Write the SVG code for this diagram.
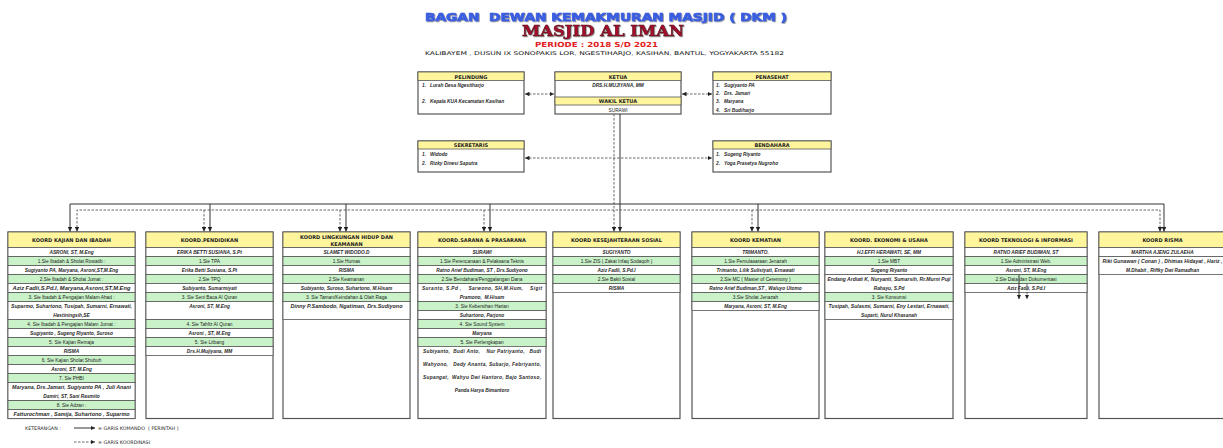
<svg xmlns="http://www.w3.org/2000/svg" width="1223" height="448" viewBox="0 0 1223 448">
<style>
.box{fill:#fff;stroke:#555;stroke-width:1.2}
.hd{fill:#fff59d;stroke:#555;stroke-width:0.8}
.w{fill:#fff;stroke:#555;stroke-width:0.8}
.g{fill:#c9f2c9;stroke:#555;stroke-width:0.8}
.ht{font-family:"DejaVu Sans",sans-serif;font-weight:bold;font-size:5px;text-anchor:middle;fill:#222}
.nm{font-family:"Liberation Sans",Arial,sans-serif;font-style:italic;font-weight:bold;font-size:4.8px;text-anchor:middle;fill:#2a2a2a}
.s{font-family:"Liberation Sans",Arial,sans-serif;font-size:4.8px;text-anchor:middle;fill:#222}
.it{font-family:"Liberation Sans",Arial,sans-serif;font-style:italic;font-weight:bold;font-size:4.8px;fill:#2a2a2a}
.lg{font-family:"DejaVu Sans",sans-serif;font-size:4.8px;fill:#222}
.sol{fill:none;stroke:#333;stroke-width:1}
.dsh{fill:none;stroke:#444;stroke-width:0.8;stroke-dasharray:2.5 1.5}
</style>
<defs>
<marker id="ah" viewBox="0 0 10 10" refX="10" refY="5" markerWidth="4.5" markerHeight="4.5" markerUnits="userSpaceOnUse" orient="auto-start-reverse"><path d="M0,0 L10,5 L0,10 z" fill="#222"/></marker>
<filter id="sh" x="-5%" y="-20%" width="110%" height="150%"><feDropShadow dx="0.8" dy="0.8" stdDeviation="0.3" flood-color="#555" flood-opacity="0.7"/></filter>
</defs>

<g id="title">
<text x="606" y="21" text-anchor="middle" font-family="DejaVu Sans, sans-serif" font-weight="900" font-size="11" fill="#3a5ee0" stroke="#3a5ee0" stroke-width="0.7" textLength="362" lengthAdjust="spacingAndGlyphs" filter="url(#sh)" xml:space="preserve">BAGAN  DEWAN KEMAKMURAN MASJID ( DKM )</text>
<text x="603" y="36" text-anchor="middle" font-family="DejaVu Serif, serif" font-weight="bold" font-size="14" fill="#a8102e" stroke="#5a0a18" stroke-width="0.5" textLength="162" lengthAdjust="spacingAndGlyphs" filter="url(#sh)">MASJID AL IMAN</text>
<text x="596.5" y="46.5" text-anchor="middle" font-family="DejaVu Sans, sans-serif" font-weight="bold" font-size="7" fill="#e0201c" textLength="123" lengthAdjust="spacingAndGlyphs">PERIODE : 2018 S/D 2021</text>
<text x="604.5" y="54.5" text-anchor="middle" font-family="DejaVu Sans, sans-serif" font-size="5" fill="#111" textLength="359" lengthAdjust="spacingAndGlyphs">KALIBAYEM , DUSUN IX SONOPAKIS LOR, NGESTIHARJO, KASIHAN, BANTUL, YOGYAKARTA 55182</text>
</g>

<g id="pelindung">
<rect class="box" x="418" y="72" width="106" height="42"/>
<rect class="hd" x="418" y="72" width="106" height="8.5"/>
<text class="ht" x="471" y="78.5">PELINDUNG</text>
<text class="it" x="422" y="86.7" xml:space="preserve">1.   Lurah Desa Ngestiharjo</text>
<text class="it" x="422" y="103" xml:space="preserve">2.   Kepala KUA Kecamatan Kasihan</text>
</g>

<g id="ketua">
<rect class="box" x="555" y="72" width="126" height="42"/>
<rect class="hd" x="555" y="72" width="126" height="8.5"/>
<text class="ht" x="618" y="78.5">KETUA</text>
<text class="nm" x="618" y="86.7">DRS.H.MUJIYANA, MM</text>
<rect class="hd" x="555" y="97" width="126" height="8"/>
<text class="ht" x="618" y="103.2">WAKIL KETUA</text>
<text class="s" x="618" y="111.5">SURAWI</text>
</g>

<g id="penasehat">
<rect class="box" x="713" y="72" width="118" height="42"/>
<rect class="hd" x="713" y="72" width="118" height="8.5"/>
<text class="ht" x="772" y="78.5">PENASEHAT</text>
<text class="it" x="716" y="86.7" xml:space="preserve">1.   Sugiyanto PA</text>
<text class="it" x="716" y="95.2" xml:space="preserve">2.   Drs. Jamari</text>
<text class="it" x="716" y="103.4" xml:space="preserve">3.   Maryana</text>
<text class="it" x="716" y="111.6" xml:space="preserve">4.   Sri Budiharjo</text>
</g>

<g id="sekretaris">
<rect class="box" x="418" y="141" width="106" height="31"/>
<rect class="hd" x="418" y="141" width="106" height="8"/>
<text class="ht" x="471" y="147.2">SEKRETARIS</text>
<text class="it" x="422" y="156" xml:space="preserve">1.   Widodo</text>
<text class="it" x="422" y="164.7" xml:space="preserve">2.   Rizky Dinesi Saputra</text>
</g>

<g id="bendahara">
<rect class="box" x="713" y="141" width="118" height="31"/>
<rect class="hd" x="713" y="141" width="118" height="8"/>
<text class="ht" x="772" y="147.2">BENDAHARA</text>
<text class="it" x="716" y="156" xml:space="preserve">1.   Sugeng Riyanto</text>
<text class="it" x="716" y="164.7" xml:space="preserve">2.   Yoga Prasetya Nugroho</text>
</g>

<g id="koord-kajian">
<rect class="box" x="8" y="232" width="127" height="186.5"/>
<rect class="hd" x="8" y="232" width="127" height="15.5"/>
<text class="ht" x="71.5" y="241.8">KOORD KAJIAN DAN IBADAH</text>
<rect class="w" x="8" y="247.5" width="127" height="9"/><text class="nm" x="71.5" y="253.8">ASRONI, ST, M.Eng</text>
<rect class="g" x="8" y="256.5" width="127" height="9"/><text class="s" x="71.5" y="262.8">1.Sie Ibadah &amp; Sholat Rowatib :</text>
<rect class="w" x="8" y="265.5" width="127" height="9"/><text class="nm" x="71.5" y="271.8">Sugiyanto PA, Maryana, Asroni,ST,M.Eng</text>
<rect class="g" x="8" y="274.5" width="127" height="9"/><text class="s" x="71.5" y="280.8">2.Sie Ibadah &amp; Sholat Jumat :</text>
<rect class="w" x="8" y="283.5" width="127" height="9"/><text class="nm" x="71.5" y="289.8" textLength="118" lengthAdjust="spacingAndGlyphs">Aziz Fadli,S.Pd.I, Maryana,Asroni,ST,M.Eng</text>
<rect class="g" x="8" y="292.5" width="127" height="9"/><text class="s" x="71.5" y="298.8">3. Sie Ibadah &amp; Pengajian Malam Ahad :</text>
<rect class="w" x="8" y="301.5" width="127" height="18"/><text class="nm" x="71.5" y="307.8" textLength="121" lengthAdjust="spacingAndGlyphs">Suparmo, Suhartono, Tusipah, Sumarni, Ernawati,</text><text class="nm" x="71.5" y="316.8">Hestiningsih,SE</text>
<rect class="g" x="8" y="319.5" width="127" height="9"/><text class="s" x="71.5" y="325.8">4. Sie Ibadah &amp; Pengajian Malam Jumat :</text>
<rect class="w" x="8" y="328.5" width="127" height="9"/><text class="nm" x="71.5" y="334.8">Sugiyanto , Sugeng Riyanto, Suroso</text>
<rect class="g" x="8" y="337.5" width="127" height="9"/><text class="s" x="71.5" y="343.8">5. Sie Kajian Remaja</text>
<rect class="w" x="8" y="346.5" width="127" height="9"/><text class="nm" x="71.5" y="352.8">RISMA</text>
<rect class="g" x="8" y="355.5" width="127" height="9"/><text class="s" x="71.5" y="361.8">6. Sie Kajian Sholat Shubuh</text>
<rect class="w" x="8" y="364.5" width="127" height="9"/><text class="nm" x="71.5" y="370.8">Asroni, ST, M.Eng</text>
<rect class="g" x="8" y="373.5" width="127" height="9"/><text class="s" x="71.5" y="379.8">7. Sie PHBI</text>
<rect class="w" x="8" y="382.5" width="127" height="18"/><text class="nm" x="71.5" y="388.8" textLength="119" lengthAdjust="spacingAndGlyphs">Maryana, Drs.Jamari, Sugiyanto PA , Juli Anani</text><text class="nm" x="71.5" y="397.8">Damiri, ST, Sani Rasmito</text>
<rect class="g" x="8" y="400.5" width="127" height="9"/><text class="s" x="71.5" y="406.8">8. Sie Adzan :</text>
<rect class="w" x="8" y="409.5" width="127" height="9"/><text class="nm" x="71.5" y="415.8" textLength="116" lengthAdjust="spacingAndGlyphs">Fatturochman , Samija, Suhartono , Suparmo</text>
</g>

<g id="koord-pendidikan">
<rect class="box" x="146" y="232" width="127" height="186.5"/>
<rect class="hd" x="146" y="232" width="127" height="15.5"/>
<text class="ht" x="209.5" y="241.8">KOORD.PENDIDIKAN</text>
<rect class="w" x="146" y="247.5" width="127" height="9"/><text class="nm" x="209.5" y="253.8">ERIKA BETTI SUSIANA, S.Pt</text>
<rect class="g" x="146" y="256.5" width="127" height="9"/><text class="s" x="209.5" y="262.8">1.Sie TPA</text>
<rect class="w" x="146" y="265.5" width="127" height="9"/><text class="nm" x="209.5" y="271.8">Erika Betti Susiana, S.Pt</text>
<rect class="g" x="146" y="274.5" width="127" height="9"/><text class="s" x="209.5" y="280.8">2.Sie TPQ</text>
<rect class="w" x="146" y="283.5" width="127" height="9"/><text class="nm" x="209.5" y="289.8">Subiyanto, Sumarmiyati</text>
<rect class="g" x="146" y="292.5" width="127" height="9"/><text class="s" x="209.5" y="298.8">3. Sie Seni Baca Al Quran</text>
<rect class="w" x="146" y="301.5" width="127" height="18"/><text class="nm" x="209.5" y="307.8">Asroni, ST, M.Eng</text>
<rect class="g" x="146" y="319.5" width="127" height="9"/><text class="s" x="209.5" y="325.8">4. Sie Tahfiz Al Quran</text>
<rect class="w" x="146" y="328.5" width="127" height="9"/><text class="nm" x="209.5" y="334.8">Asroni , ST, M.Eng</text>
<rect class="g" x="146" y="337.5" width="127" height="9"/><text class="s" x="209.5" y="343.8">5. Sie Litbang</text>
<rect class="w" x="146" y="346.5" width="127" height="9"/><text class="nm" x="209.5" y="352.8">Drs.H.Mujiyana, MM</text>
</g>

<g id="koord-lingkungan">
<rect class="box" x="283" y="232" width="127" height="186.5"/>
<rect class="hd" x="283" y="232" width="127" height="15.5"/>
<text class="ht" x="346.5" y="239">KOORD LINGKUNGAN HIDUP DAN</text>
<text class="ht" x="346.5" y="245.5">KEAMANAN</text>
<rect class="w" x="283" y="247.5" width="127" height="9"/><text class="nm" x="346.5" y="253.8">SLAMET WIDODO.D</text>
<rect class="g" x="283" y="256.5" width="127" height="9"/><text class="s" x="346.5" y="262.8">1.Sie Humas</text>
<rect class="w" x="283" y="265.5" width="127" height="9"/><text class="nm" x="346.5" y="271.8">RISMA</text>
<rect class="g" x="283" y="274.5" width="127" height="9"/><text class="s" x="346.5" y="280.8">2.Sie Keamanan</text>
<rect class="w" x="283" y="283.5" width="127" height="9"/><text class="nm" x="346.5" y="289.8">Subiyanto, Suroso, Suhartono, M.Hisam</text>
<rect class="g" x="283" y="292.5" width="127" height="9"/><text class="s" x="346.5" y="298.8">3. Sie Taman/Keindahan &amp; Olah Raga</text>
<rect class="w" x="283" y="301.5" width="127" height="18"/><text class="nm" x="346.5" y="307.8" textLength="112" lengthAdjust="spacingAndGlyphs">Dinny P.Sambodo, Ngatiman, Drs.Sudiyono</text>
</g>

<g id="koord-sarana">
<rect class="box" x="418" y="232" width="128" height="186.5"/>
<rect class="hd" x="418" y="232" width="128" height="15.5"/>
<text class="ht" x="482" y="241.8">KOORD.SARANA &amp; PRASARANA</text>
<rect class="w" x="418" y="247.5" width="128" height="9"/><text class="nm" x="482" y="253.8">SURAWI</text>
<rect class="g" x="418" y="256.5" width="128" height="9"/><text class="s" x="482" y="262.8">1.Sie Perencanaan &amp; Pelaksana Teknis</text>
<rect class="w" x="418" y="265.5" width="128" height="9"/><text class="nm" x="482" y="271.8">Ratno Arief Budiman, ST , Drs.Sudiyono</text>
<rect class="g" x="418" y="274.5" width="128" height="9"/><text class="s" x="482" y="280.8">2.Sie Bendahara/Penggalangan Dana</text>
<rect class="w" x="418" y="283.5" width="128" height="18"/><text class="nm" x="482" y="289.8" textLength="120" lengthAdjust="spacing" xml:space="preserve">Suranto, S.Pd ,    Sarwono, SH,M.Hum,    Sigit</text><text class="nm" x="482" y="298.8" xml:space="preserve">Pramono,  M.Hisam</text>
<rect class="g" x="418" y="301.5" width="128" height="9"/><text class="s" x="482" y="307.8">3. Sie Kebersihan Harian</text>
<rect class="w" x="418" y="310.5" width="128" height="9"/><text class="nm" x="482" y="316.8">Suhartono, Parjono</text>
<rect class="g" x="418" y="319.5" width="128" height="9"/><text class="s" x="482" y="325.8">4. Sie Sound System</text>
<rect class="w" x="418" y="328.5" width="128" height="9"/><text class="nm" x="482" y="334.8">Maryana</text>
<rect class="g" x="418" y="337.5" width="128" height="9"/><text class="s" x="482" y="343.8">5. Sie Perlengkapan</text>
<text class="nm" x="482" y="353" textLength="118" lengthAdjust="spacing" xml:space="preserve">Subiyanto,  Budi Anto,    Nur Patriyanto,   Budi</text>
<text class="nm" x="482" y="366" textLength="118" lengthAdjust="spacing" xml:space="preserve">Wahyono,   Dedy Ananta, Subarjo, Febriyanto,</text>
<text class="nm" x="482" y="379" textLength="118" lengthAdjust="spacing" xml:space="preserve">Supangat,  Wahyu Dwi Hantoro, Bajo Santoso,</text>
<text class="nm" x="482" y="392">Panda Harya Bimantoro</text>
</g>

<g id="koord-kesejahteraan">
<rect class="box" x="553" y="232" width="127" height="186.5"/>
<rect class="hd" x="553" y="232" width="127" height="15.5"/>
<text class="ht" x="616.5" y="241.8">KOORD KESEJAHTERAAN SOSIAL</text>
<rect class="w" x="553" y="247.5" width="127" height="9"/><text class="nm" x="616.5" y="253.8">SUGIYANTO</text>
<rect class="g" x="553" y="256.5" width="127" height="9"/><text class="s" x="616.5" y="262.8">1.Sie ZIS ( Zakat Infaq Sodaqoh )</text>
<rect class="w" x="553" y="265.5" width="127" height="9"/><text class="nm" x="616.5" y="271.8">Aziz Fadli, S.Pd.I</text>
<rect class="g" x="553" y="274.5" width="127" height="9"/><text class="s" x="616.5" y="280.8">2.Sie Bakti Sosial</text>
<rect class="w" x="553" y="283.5" width="127" height="9"/><text class="nm" x="616.5" y="289.8">RISMA</text>
</g>

<g id="koord-kematian">
<rect class="box" x="692" y="232" width="127" height="186.5"/>
<rect class="hd" x="692" y="232" width="127" height="15.5"/>
<text class="ht" x="755.5" y="241.8">KOORD KEMATIAN</text>
<rect class="w" x="692" y="247.5" width="127" height="9"/><text class="nm" x="755.5" y="253.8">TRIMANTO.</text>
<rect class="g" x="692" y="256.5" width="127" height="9"/><text class="s" x="755.5" y="262.8">1.Sie Pemulasaraan Jenazah</text>
<rect class="w" x="692" y="265.5" width="127" height="9"/><text class="nm" x="755.5" y="271.8">Trimanto, Lilik Sulistyati, Ernawati</text>
<rect class="g" x="692" y="274.5" width="127" height="9"/><text class="s" x="755.5" y="280.8">2.Sie MC ( Master of Ceremony )</text>
<rect class="w" x="692" y="283.5" width="127" height="9"/><text class="nm" x="755.5" y="289.8">Ratno Arief Budiman,ST , Waluyo Utomo</text>
<rect class="g" x="692" y="292.5" width="127" height="9"/><text class="s" x="755.5" y="298.8">3.Sie Sholat Jenazah</text>
<rect class="w" x="692" y="301.5" width="127" height="9"/><text class="nm" x="755.5" y="307.8">Maryana, Asroni, ST, M.Eng</text>
</g>

<g id="koord-ekonomi">
<rect class="box" x="825" y="232" width="128" height="186.5"/>
<rect class="hd" x="825" y="232" width="128" height="15.5"/>
<text class="ht" x="889" y="241.8">KOORD. EKONOMI &amp; USAHA</text>
<rect class="w" x="825" y="247.5" width="128" height="9"/><text class="nm" x="889" y="253.8">HJ.EFFI HERAWATI, SE, MM</text>
<rect class="g" x="825" y="256.5" width="128" height="9"/><text class="s" x="889" y="262.8">1.Sie MBT</text>
<rect class="w" x="825" y="265.5" width="128" height="9"/><text class="nm" x="889" y="271.8">Sugeng Riyanto</text>
<rect class="w" x="825" y="274.5" width="128" height="18"/><text class="nm" x="889" y="280.8" textLength="123" lengthAdjust="spacingAndGlyphs">Endang Ardiati K, Nuryanti, Sumarsih, Rr.Murni Puji</text><text class="nm" x="889" y="289.8">Rahayu, S.Pd</text>
<rect class="g" x="825" y="292.5" width="128" height="9"/><text class="s" x="889" y="298.8">3. Sie Konsumsi</text>
<rect class="w" x="825" y="301.5" width="128" height="18"/><text class="nm" x="889" y="307.8" textLength="121" lengthAdjust="spacingAndGlyphs">Tusipah, Sulasmi, Sumarni, Eny Lestari, Ernawati,</text><text class="nm" x="889" y="316.8">Suparti, Nurul Khasanah</text>
</g>

<g id="koord-teknologi">
<rect class="box" x="965" y="232" width="122" height="186.5"/>
<rect class="hd" x="965" y="232" width="122" height="15.5"/>
<text class="ht" x="1026" y="241.8">KOORD TEKNOLOGI &amp; INFORMASI</text>
<rect class="w" x="965" y="247.5" width="122" height="9"/><text class="nm" x="1026" y="253.8">RATNO ARIEF BUDIMAN, ST</text>
<rect class="g" x="965" y="256.5" width="122" height="9"/><text class="s" x="1026" y="262.8">1.Sie Administrasi Web.</text>
<rect class="w" x="965" y="265.5" width="122" height="9"/><text class="nm" x="1026" y="271.8">Asroni, ST, M.Eng</text>
<rect class="g" x="965" y="274.5" width="122" height="9"/><text class="s" x="1026" y="280.8">2.Sie Data dan Dokumentasi</text>
<rect class="w" x="965" y="283.5" width="122" height="9"/><text class="nm" x="1026" y="289.8">Aziz Fadli, S.Pd.I</text>
</g>

<g id="koord-risma">
<rect class="box" x="1099" y="232" width="128" height="186.5"/>
<rect class="hd" x="1099" y="232" width="128" height="15.5"/>
<text class="ht" x="1162.5" y="241.8">KOORD RISMA</text>
<rect class="w" x="1099" y="247.5" width="128" height="9"/><text class="nm" x="1162.5" y="253.8">MARTHA AJENG ZULAEHA</text>
<rect class="w" x="1099" y="256.5" width="128" height="18"/><text class="nm" x="1162.5" y="262.8" textLength="120" lengthAdjust="spacingAndGlyphs">Riki Gunawan ( Conan ) , Dhimas Hidayat , Hariz ,</text><text class="nm" x="1162.5" y="271.8">M.Dhabit , Riffky Dwi Ramadhan</text>
</g>

<g id="connectors">
<line class="dsh" x1="525" y1="94" x2="554" y2="94" marker-start="url(#ah)" marker-end="url(#ah)"/>
<line class="dsh" x1="682" y1="94" x2="712" y2="94" marker-start="url(#ah)" marker-end="url(#ah)"/>
<line class="dsh" x1="525" y1="158" x2="712" y2="158" marker-start="url(#ah)" marker-end="url(#ah)"/>
<line class="dsh" x1="614" y1="114" x2="614" y2="231.5" marker-end="url(#ah)"/>
<line class="sol" x1="620" y1="114" x2="620" y2="231.5" marker-end="url(#ah)"/>
<polyline class="sol" points="70,231.5 70,204 1164,204 1164,231.5" marker-start="url(#ah)" marker-end="url(#ah)"/>
<polyline class="dsh" points="77,231.5 77,210 1160,210 1160,231.5" marker-start="url(#ah)" marker-end="url(#ah)"/>
<line class="dsh" x1="204" y1="210" x2="204" y2="231.5" marker-end="url(#ah)"/>
<line class="sol" x1="210" y1="204" x2="210" y2="231.5" marker-end="url(#ah)"/>
<line class="dsh" x1="340" y1="210" x2="340" y2="231.5" marker-end="url(#ah)"/>
<line class="sol" x1="346" y1="204" x2="346" y2="231.5" marker-end="url(#ah)"/>
<line class="dsh" x1="484" y1="210" x2="484" y2="231.5" marker-end="url(#ah)"/>
<line class="sol" x1="490" y1="204" x2="490" y2="231.5" marker-end="url(#ah)"/>
<line class="dsh" x1="752" y1="210" x2="752" y2="231.5" marker-end="url(#ah)"/>
<line class="sol" x1="758" y1="204" x2="758" y2="231.5" marker-end="url(#ah)"/>
<line class="sol" x1="1019" y1="275" x2="1019" y2="299" stroke-width="0.7" marker-end="url(#ah)"/>
<line class="dsh" x1="1027" y1="284" x2="1027" y2="299" marker-end="url(#ah)"/>
</g>

<g id="legend">
<text class="lg" x="25" y="430">KETERANGAN :</text>
<line class="sol" x1="74" y1="428" x2="95" y2="428" marker-end="url(#ah)"/>
<text class="lg" x="98" y="430" xml:space="preserve">= GARIS KOMANDO  ( PERINTAH )</text>
<line class="dsh" x1="74" y1="442" x2="95" y2="442" marker-end="url(#ah)"/>
<text class="lg" x="98" y="444">= GARIS KOORDINASI</text>
</g>
</svg>
